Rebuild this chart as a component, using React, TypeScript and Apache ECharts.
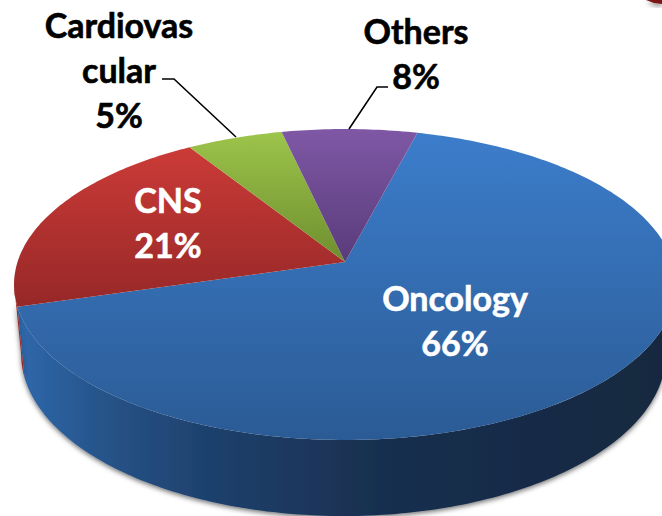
import React, { useEffect, useRef } from "react";
import * as echarts from "echarts";

const categories = ["Oncology", "CNS", "Cardiovascular", "Others"];
const labelLines = [["Oncology"], ["CNS"], ["Cardiovas", "cular"], ["Others"]];
// Shares; the labels show them rounded to whole percents.
const values = [66.4, 20.6, 5.4, 7.6];
const labelColors = ["#ffffff", "#ffffff", "#000000", "#000000"];

const faceStops = [
  ["#3c7dcb", "#2b5b95"],
  ["#cb3b37", "#962828"],
  ["#9dc44b", "#6e8e2e"],
  ["#7f58a5", "#593b7a"],
];
const wallStops: [number, string][][] = [
  [[0, "#2f69ae"], [0.13, "#27548a"], [0.28, "#1f426f"], [0.55, "#192f4f"], [1, "#15283f"]],
  [[0, "#9a2624"], [1, "#9a2624"]],
  [[0, "#5f7a28"], [1, "#5f7a28"]],
  [[0, "#4a3066"], [1, "#4a3066"]],
];

const K = 0.1447;
const TOP = { cx: 345, cy: 262, a: 327.5, b: 152.2 };
const BOTTOM = { cx: 343.5, cy: 330.6, a: 319, b: 158.6 };
const START = 14.6;
const RAD = Math.PI / 180;
const EXT = Math.acos(-K) / RAD;

function project(deg: number, lv = TOP): number[] {
  const a = deg * RAD;
  const w = 1 + K * Math.cos(a);
  return [lv.cx + (lv.a * Math.sin(a)) / w, lv.cy - (lv.b * Math.cos(a)) / w];
}
function arc(from: number, to: number, lv = TOP): number[][] {
  const n = Math.max(2, Math.ceil(Math.abs(to - from)));
  const pts: number[][] = [];
  for (let i = 0; i <= n; i++) pts.push(project(from + ((to - from) * i) / n, lv));
  return pts;
}

const total = values.reduce((s, v) => s + v, 0);
let run = START;
const spans = values.map((v) => {
  const s = run;
  run += (v / total) * 360;
  return [s, run];
});

const gradV = (c: string[], y0: number, y1: number) =>
  new echarts.graphic.LinearGradient(0, y0, 0, y1, [{ offset: 0, color: c[0] }, { offset: 1, color: c[1] }], true);
const gradH = (stops: [number, string][]) =>
  new echarts.graphic.LinearGradient(14, 0, 676, 0, stops.map(([offset, color]) => ({ offset, color })), true);

const labelPos: { x: number; y: number }[] = [
  { x: 455, y: 320 },
  { x: 168, y: 222 },
  { x: 119, y: 69 },
  { x: 416, y: 53 },
];

export default function App() {
  const ref = useRef<HTMLDivElement>(null);
  useEffect(() => {
    const chart = echarts.init(ref.current!, null, { renderer: "svg" });
    const rows = values.map((v, i) => [v, i]);
    chart.setOption({
      animation: false,
      backgroundColor: "#ffffff",
      series: [
        {
          type: "custom",
          coordinateSystem: "none",
          z: 1,
          silent: true,
          data: rows,
          renderItem: (_p: any, api: any) => {
            const i = api.value(1);
            const from = Math.max(spans[i][0], EXT);
            const to = Math.min(spans[i][1], 360 - EXT);
            if (to <= from) return null;
            const points = [...arc(from, to), ...arc(to, from, BOTTOM)];
            return {
              type: "polygon",
              shape: { points },
              style: { fill: gradH(wallStops[i]), shadowBlur: 5, shadowColor: "rgba(0,0,0,0.55)", shadowOffsetY: 2 },
            };
          },
        },
        {
          type: "custom",
          coordinateSystem: "none",
          z: 2,
          silent: true,
          data: rows,
          renderItem: (_p: any, api: any) => {
            const i = api.value(1);
            const points = [[TOP.cx, TOP.cy], ...arc(spans[i][0], spans[i][1])];
            const ys = points.map((p) => p[1]);
            return {
              type: "polygon",
              shape: { points },
              style: { fill: gradV(faceStops[i], Math.min(...ys), Math.max(...ys)) },
            };
          },
        },
      ],
      graphic: [
        {
          type: "polygon",
          z: 5,
          shape: { points: [[646, 0], [662, 0], [662, 4], [654, 3]] },
          style: { fill: "#7a1416", shadowBlur: 5, shadowColor: "rgba(0,0,0,0.6)", shadowOffsetY: 2 },
        },
        {
          type: "polyline",
          z: 6,
          shape: { points: [[162, 79], [174, 79], [236, 137]] },
          style: { stroke: "#000000", lineWidth: 1.6, fill: "none" },
        },
        {
          type: "polyline",
          z: 6,
          shape: { points: [[388, 87], [377, 87], [349, 129]] },
          style: { stroke: "#000000", lineWidth: 1.6, fill: "none" },
        },
        ...categories.map((_, i) => ({
          type: "text",
          z: 7,
          x: labelPos[i].x,
          y: labelPos[i].y,
          style: {
            text: [...labelLines[i], `${Math.round(values[i])}%`].join("\n"),
            font: 'bold 34px Lato, "Open Sans", sans-serif',
            lineHeight: 45,
            fill: labelColors[i],
            stroke: labelColors[i],
            lineWidth: 0.6,
            align: "center",
            verticalAlign: "middle",
          },
        })),
      ],
    });
    return () => chart.dispose();
  }, []);
  return <div ref={ref} style={{ position: "absolute", left: 0, top: 0, width: 662, height: 516, overflow: "hidden" }} />;
}
